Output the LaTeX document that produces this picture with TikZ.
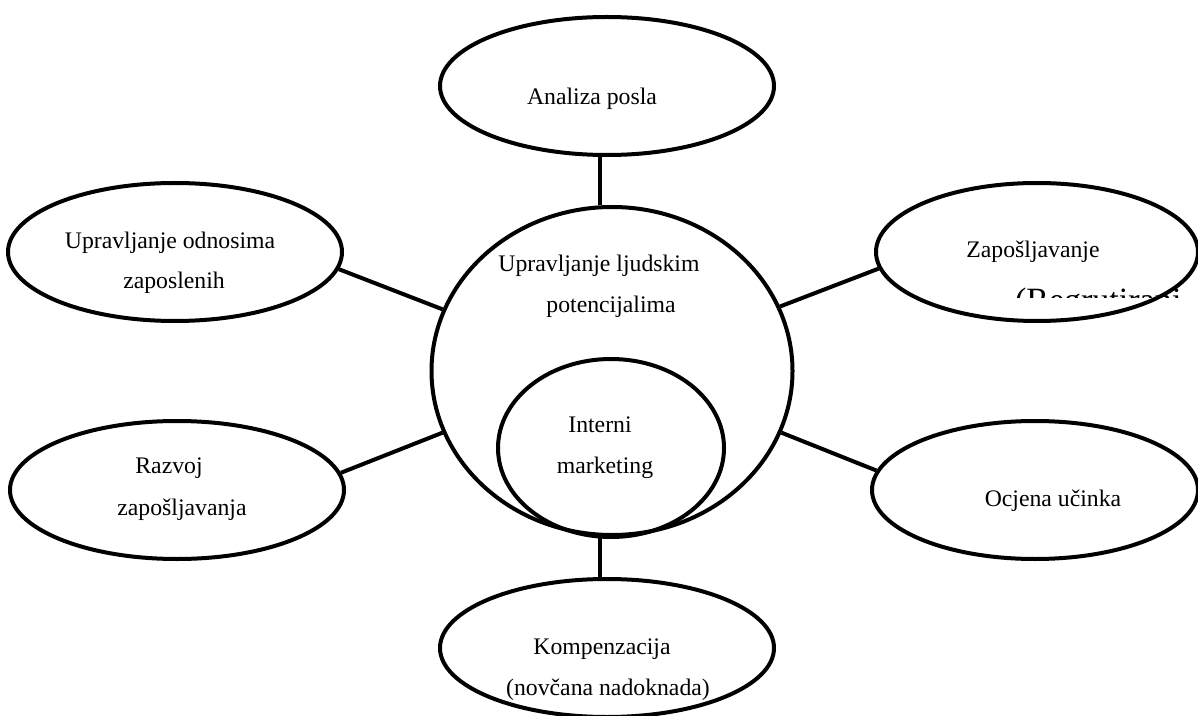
\documentclass[tikz,border=0pt]{standalone}
\usepackage{fontspec}
\setmainfont{Liberation Serif}
\usetikzlibrary{shapes.geometric}

\begin{document}
\begin{tikzpicture}[x=0.75pt, y=-0.75pt, line width=3pt,
    bubble/.style = {ellipse, draw, inner sep=0pt, minimum width=250.5pt, minimum height=103.5pt},
    txt/.style = {anchor=base, inner sep=0pt, font=\fontsize{17.8}{20}\selectfont}]
    \useasboundingbox (0,0) rectangle (1198,716);
    \node[ellipse, draw, inner sep=0pt, minimum width=270.75pt, minimum height=246pt] (hrm) at (612, 371) {} % middle, big
    node[ellipse, draw, inner sep=0pt, minimum width=169.5pt, minimum height=133.5pt] (im) at (611, 448) {} % middle, inner
    node[bubble] (analiza) at (607, 86) {} % top
    node[bubble] (odnosi) at (175, 252) {} % left, top
    node[bubble] (razvoj) at (177, 490) {} % left, bottom
    node[bubble, minimum width=241.5pt] (zaposl) at (1037, 252) {} % right, top
    node[bubble, minimum width=244.5pt] (ocjena) at (1035, 490) {} % right, bottom
    node[bubble] (komp) at (607, 648) {}; % bottom
    \draw ([xshift=-5.5pt]analiza.south) -- ([xshift=-5.5pt]analiza.south |- hrm.north);
    \draw ([xshift=-5pt]komp.north) -- ([xshift=-5pt]komp.north |- hrm.south);
    \draw (odnosi.-6) -- (hrm.160);
    \draw (razvoj.6) -- (hrm.200);
    \draw (zaposl.186) -- (hrm.21);
    \draw (ocjena.173) -- (hrm.-20);
    \node[txt] (t1) at (592, 105) {Analiza posla}
    node[txt] (t2) at (170, 249) {Upravljanje odnosima}
    node[txt] (t3) at (174, 289) {zaposlenih}
    node[txt] (t4) at (169, 473) {Razvoj}
    node[txt] (t5) at (182, 515) {zapošljavanja}
    node[txt] (t6) at (599, 272) {Upravljanje ljudskim}
    node[txt] (t7) at (611, 313) {potencijalima}
    node[txt] (t8) at (600, 432) {Interni}
    node[txt] (t9) at (605, 473) {marketing}
    node[txt] (t10) at (1033, 258) {Zapošljavanje}
    node[txt] (t11) at (1053, 506) {Ocjena učinka}
    node[txt] (t12) at (602, 654) {Kompenzacija}
    node[txt] (t13) at (608, 695) {(novčana nadoknada)};
    \begin{scope}
      \clip (1008, 280) rectangle (1180, 298);
      \node[anchor=base west, inner sep=0pt, font=\fontsize{25.5}{28}\selectfont] (t14) at (1013, 311) {(Regrutiranj};
    \end{scope}
  \end{tikzpicture}
\end{document}
